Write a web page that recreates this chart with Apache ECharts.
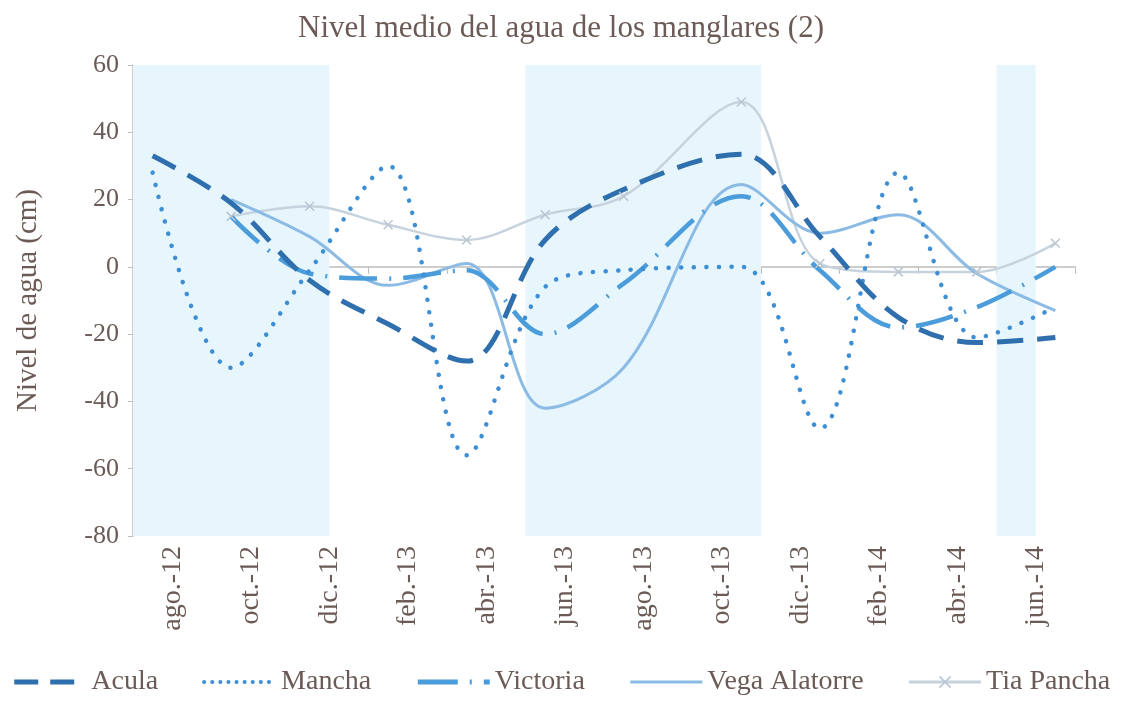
<!DOCTYPE html>
<html lang="es">
<head>
<meta charset="UTF-8">
<title>Nivel medio del agua de los manglares (2)</title>
<style>
  html, body { margin: 0; padding: 0; background: #fff; }
  #chart { width: 1122px; height: 701px; }
</style>
</head>
<body>
<div id="chart"></div>
<script src="https://cdn.jsdelivr.net/npm/echarts@6/dist/echarts.min.js"></script>
<script>
  // etiquetas del eje x, cada dos meses
  var tickLabels = ['ago.-12', 'oct.-12', 'dic.-12', 'feb.-13', 'abr.-13', 'jun.-13',
                    'ago.-13', 'oct.-13', 'dic.-13', 'feb.-14', 'abr.-14', 'jun.-14'];
  // un elemento por mes del eje
  var months = ['ago.-12', 'sep.-12', 'oct.-12', 'nov.-12', 'dic.-12', 'ene.-13',
                'feb.-13', 'mar.-13', 'abr.-13', 'may.-13', 'jun.-13', 'jul.-13',
                'ago.-13', 'sep.-13', 'oct.-13', 'nov.-13', 'dic.-13', 'ene.-14',
                'feb.-14', 'mar.-14', 'abr.-14', 'may.-14', 'jun.-14', 'jul.-14'];
  // meses de muestreo
  var sampleMonths = ['ago.-12', 'oct.-12', 'dic.-12', 'feb.-13', 'abr.-13', 'jun.-13',
                      'ago.-13', 'nov.-13', 'ene.-14', 'mar.-14', 'may.-14', 'jul.-14'];

  var acula        = [33, 19, -4, -17, -28, 8, 23, 33.5, 9, -15, -22.5, -21];
  var mancha       = [28, -30, -1, 30, -56, -6, -1, 0, -48, 28, -21, -12];
  var victoria     = [null, 15, -2, -3.5, -1, -20, -5, 21, -1, -18, -12, 0];
  var vegaAlatorre = [null, 20, 9, -5.5, 1, -42, -30, 24.5, 10, 15.5, -2, -13];
  var tiaPancha    = [null, 15, 18, 12.5, 8, 15.5, 21, 49, 1, -1.5, -1.5, 7];

  // periodos sombreados (desde, hasta)
  var rainy = [['ago.-12', 'dic.-12'], ['jun.-13', 'nov.-13'], ['jun.-14', 'jun.-14']];

  var textColor = '#6b5a55';
  var font = 'Liberation Serif';

  function toPoints(values) {
    var pts = [];
    for (var i = 0; i < values.length; i++) {
      if (values[i] === null) continue;
      pts.push([months.indexOf(sampleMonths[i]) + 0.5, values[i]]);
    }
    return pts;
  }

  function lineSeries(name, values, color, width, type) {
    return {
      name: name,
      type: 'line',
      xAxisIndex: 1,
      smooth: 0.35,
      symbol: 'none',
      data: toPoints(values),
      itemStyle: { color: color },
      lineStyle: { color: color, width: width, type: type, cap: 'butt' },
      z: 3
    };
  }

  var myChart = echarts.init(document.getElementById('chart'));

  var bands = rainy.map(function (r) {
    return [{ xAxis: months.indexOf(r[0]) }, { xAxis: months.indexOf(r[1]) + 1 }];
  });

  var mancha_s = lineSeries('Mancha', mancha, '#3d8ed3', 4.5, [0.1, 12.5]);
  mancha_s.lineStyle.cap = 'round';

  var tiaMarker = { opacity: 1, color: 'rgba(0,0,0,0)', borderColor: '#b9c6d2', borderWidth: 1.5 };
  var tia_s = lineSeries('Tia Pancha', tiaPancha, '#c6d3de', 2.5, 'solid');
  tia_s.symbol = 'path://M0,0L10,10M10,0L0,10';
  tia_s.symbolSize = 9;
  tia_s.itemStyle = tiaMarker;

  var hideDot = { opacity: 0 };

  var option = {
    animation: false,
    title: {
      text: 'Nivel medio del agua de los manglares (2)',
      left: 'center',
      top: 8,
      textStyle: { fontFamily: font, fontSize: 31, fontWeight: 'normal', color: textColor }
    },
    legend: {
      bottom: 0,
      left: 'center',
      itemWidth: 72,
      itemHeight: 14,
      itemGap: 44,
      data: [
        { name: 'Acula', itemStyle: hideDot, lineStyle: { width: 5, type: [24, 12] } },
        { name: 'Mancha', itemStyle: hideDot, lineStyle: { width: 4, type: [0.1, 8], cap: 'round' } },
        { name: 'Victoria', itemStyle: hideDot, lineStyle: { width: 5, type: [40, 12, 2, 12] } },
        { name: 'Vega Alatorre', itemStyle: hideDot, lineStyle: { width: 3 } },
        { name: 'Tia Pancha', itemStyle: tiaMarker, lineStyle: { width: 3 } }
      ],
      textStyle: { fontFamily: font, fontSize: 28, color: textColor }
    },
    grid: { left: 133, right: 47, top: 65, bottom: 165 },
    xAxis: [
      {
        type: 'category',
        position: 'bottom',
        data: tickLabels,
        boundaryGap: true,
        axisLine: { show: false, onZero: false },
        axisTick: { show: false },
        axisLabel: { rotate: 90, interval: 0, margin: 10, fontFamily: font, fontSize: 28, color: textColor }
      },
      {
        type: 'value',
        position: 'bottom',
        min: 0,
        max: 24,
        show: false,
        axisLine: { onZero: false }
      },
      {
        type: 'category',
        position: 'bottom',
        data: tickLabels,
        boundaryGap: true,
        axisLine: { show: true, onZero: true, lineStyle: { color: '#bdbdbd', width: 1.5 } },
        axisTick: { show: true, length: 7, lineStyle: { color: '#bdbdbd' } },
        axisLabel: { show: false }
      }
    ],
    yAxis: {
      type: 'value',
      min: -80,
      max: 60,
      interval: 20,
      name: 'Nivel de agua (cm)',
      nameLocation: 'middle',
      nameGap: 90,
      nameTextStyle: { fontFamily: font, fontSize: 29, color: textColor },
      axisLine: { show: true, lineStyle: { color: '#bdbdbd', width: 1.5 } },
      axisTick: { show: true, length: 5, lineStyle: { color: '#bdbdbd' } },
      splitLine: { show: false },
      axisLabel: { margin: 14, fontFamily: font, fontSize: 26, color: textColor }
    },
    series: [
      {
        name: 'bandas',
        type: 'line',
        xAxisIndex: 1,
        data: [],
        z: 1,
        markArea: {
          silent: true,
          itemStyle: { color: '#e7f5fd' },
          data: bands
        }
      },
      tia_s,
      lineSeries('Vega Alatorre', vegaAlatorre, '#8bbbe4', 3, 'solid'),
      lineSeries('Victoria', victoria, '#4a9cdb', 4.5, [38, 12, 2, 12]),
      mancha_s,
      lineSeries('Acula', acula, '#2f6fad', 5, [26, 14])
    ]
  };
  myChart.setOption(option);
</script>
</body>
</html>
